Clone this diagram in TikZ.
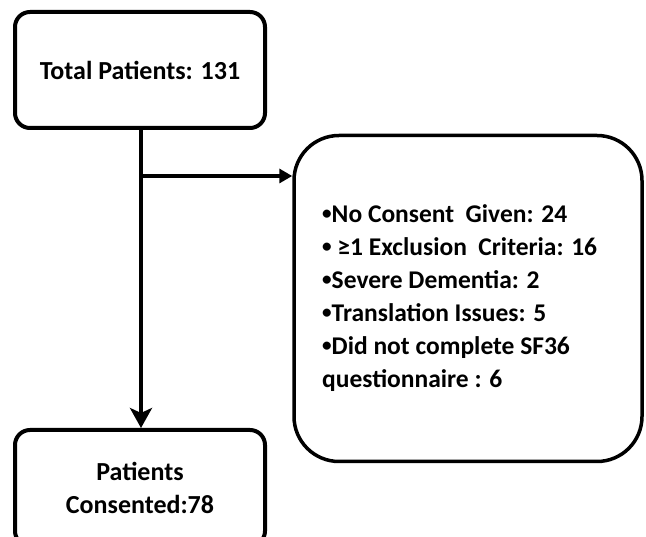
\documentclass[tikz,border=0pt]{standalone}
\usepackage{fontspec}
\setmainfont{Carlito}
\usetikzlibrary{arrows.meta}
\newcommand{\bul}{\raisebox{0.12em}{\scalebox{0.75}{•}}}
\begin{document}
\begin{tikzpicture}[x=1pt,y=-1pt,
  box/.style={draw=black,line width=4pt,rounded corners=15pt,fill=white,font=\fontsize{26}{33}\selectfont\bfseries,align=center,inner sep=0pt},
  bigbox/.style={draw=black,line width=3.5pt,rounded corners=45pt,fill=white,font=\fontsize{25.5}{33}\selectfont\bfseries,align=left,inner sep=0pt},
  arr/.style={line width=4.5pt}]
\clip (0,0) rectangle (646,537);
\fill[white] (0,0) rectangle (646,537);
\node[box,minimum width=250pt,minimum height=116pt] (total) at (140,70) {Total Patients: 131};
\node[bigbox,minimum width=348pt,minimum height=326pt] (excl) at (468,298.5) {};
\node[anchor=west,align=left,inner sep=0pt,font=\fontsize{25.5}{33}\selectfont\bfseries] (excltext) at (322,298)
  {\bul No Consent\ \ Given: 24\\\bul\ ≥1 Exclusion\ \ Criteria: 16\\\bul Severe Dementia: 2\\\bul Translation Issues: 5\\\bul Did not complete SF36\\questionnaire : 6};
\node[box,minimum width=250pt,minimum height=116pt] (cons) at (140,488) {Patients\\Consented:78};
\coordinate (br) at (141,176);
\draw[arr,-{Stealth[length=20pt,width=22pt,inset=5pt]}] (total.south -| br) -- (cons.north -| br);
\draw[arr,-{Triangle[length=13pt,width=14pt]}] (br) -- (excl.west |- br);
\end{tikzpicture}
\end{document}
